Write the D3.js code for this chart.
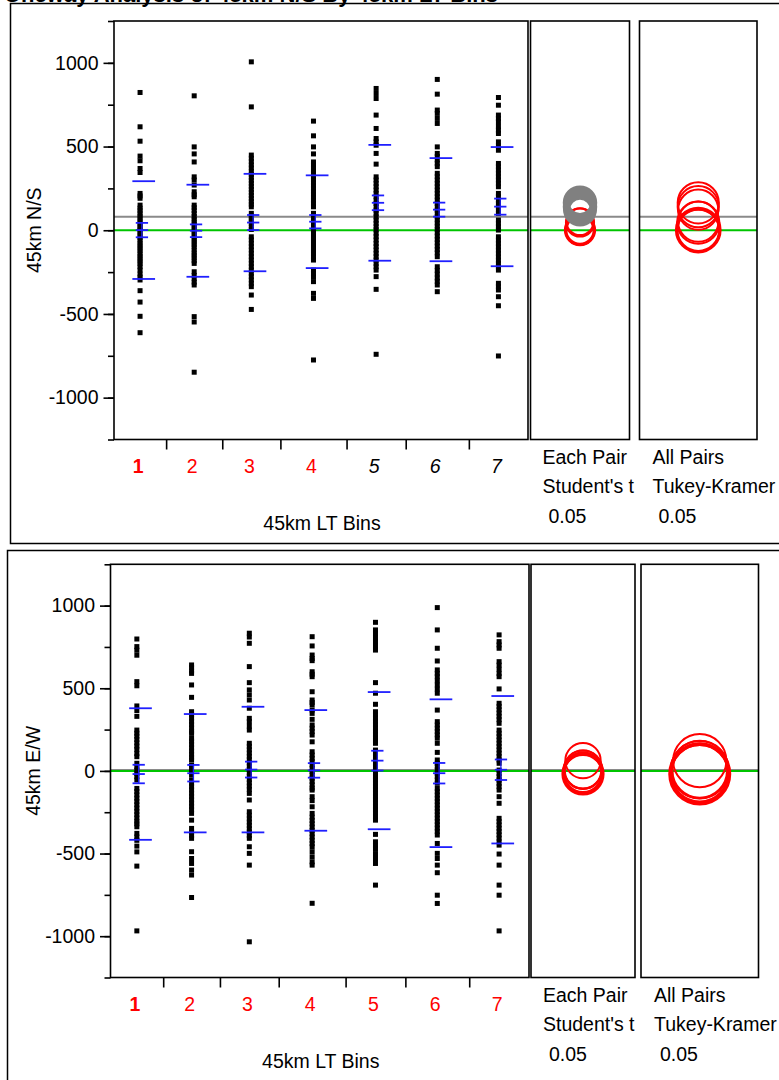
<!DOCTYPE html>
<html><head><meta charset="utf-8">
<script src="https://cdn.jsdelivr.net/npm/d3@7"></script>
<style>
html,body{margin:0;padding:0;background:#fff;overflow:hidden}
svg{display:block}
text{font-family:"Liberation Sans",Arial,Helvetica,sans-serif}
</style></head><body>
<svg id="chart" width="779" height="1080"></svg>
<script>
// ---------------- DATA ----------------
const categories = ["1","2","3","4","5","6","7"];
const binCounts = [52, 56, 58, 66, 59, 63, 59];
const yTickValues = [-1000, -500, 0, 500, 1000];
const yTickLabels = ["-1000", "-500", "0", "500", "1000"];
const xAxisTitle = "45km LT Bins";
const eachPairText = ["Each Pair", "Student's t", "0.05"];
const allPairsText = ["All Pairs", "Tukey-Kramer", "0.05"];
const titleText = "Oneway Analysis of 45km N/S By 45km LT Bins";

// 45km N/S
const nsPoints = [
 [823, 618, 532, 443, 415, 369, 345, 220, 205, 191, 150, 132, 118, 100, 85, 70, 55, 40, 25, 12, 0, -15, -30, -45, -60, -78, -92, -108, -122, -140, -155, -170, -185, -200, -218, -238, -262, -280, -297, -361, -429, -514, -612],
 [803, 498, 456, 408, 319, 300, 270, 230, 212, 200, 150, 135, 118, 100, 82, 66, 50, 35, 20, 5, -10, -25, -40, -55, -70, -85, -100, -118, -135, -150, -165, -182, -198, -248, -270, -290, -310, -327, -516, -548, -848],
 [1006, 737, 449, 430, 410, 390, 372, 352, 334, 316, 298, 280, 262, 244, 226, 208, 190, 172, 155, 140, 101, 85, 70, 55, 41, 20, 5, -39, -58, -78, -98, -118, -138, -158, -178, -198, -218, -238, -257, -277, -297, -317, -337, -387, -473],
 [652, 564, 498, 456, 408, 390, 372, 355, 338, 320, 302, 285, 268, 250, 232, 215, 198, 180, 160, 140, 101, 86, 70, 55, 40, 25, 10, -5, -20, -35, -50, -65, -80, -95, -110, -125, -140, -158, -178, -238, -258, -280, -307, -377, -407, -775],
 [847, 817, 787, 688, 608, 548, 528, 508, 459, 395, 319, 300, 280, 260, 240, 220, 200, 180, 160, 140, 120, 100, 80, 60, 41, 21, 3, -18, -38, -58, -79, -98, -118, -138, -158, -178, -198, -218, -238, -277, -353, -741],
 [901, 813, 718, 698, 668, 638, 498, 459, 440, 420, 400, 380, 340, 320, 300, 280, 260, 240, 220, 200, 180, 160, 140, 120, 101, 81, 62, 43, 24, 5, -15, -35, -55, -75, -95, -115, -135, -158, -218, -240, -262, -285, -305, -327, -367],
 [793, 747, 688, 668, 648, 620, 598, 578, 528, 503, 478, 399, 380, 360, 340, 320, 300, 280, 260, 220, 200, 180, 160, 140, 120, 101, 61, 41, 21, 1, -39, -59, -79, -99, -119, -139, -159, -179, -199, -219, -238, -317, -337, -357, -397, -451, -751]
];
const nsMeans = [1, -3, 46, 51, 164, 123, 141];
const nsSDs = [292, 275, 291, 277, 346, 308, 356];
const nsSEs = [43, 38, 45, 40, 44, 42, 48];
const nsGrandMean = 80;
const nsEachPairRadius = [86, 84, 84, 80, 82, 80, 82];
const nsTukeyRadius = [129, 126, 126, 120, 123, 120, 123];
const nsSignificant = [false, false, false, false, true, true, true];

// 45km E/W
const ewPoints = [
 [798, 752, 730, 700, 540, 515, 393, 365, 330, 247, 228, 210, 190, 170, 150, 130, 105, 86, 46, 25, 5, -15, -35, -55, -106, -125, -145, -165, -185, -205, -225, -245, -265, -285, -305, -320, -338, -378, -400, -420, -455, -490, -576, -968],
 [641, 625, 605, 590, 520, 445, 358, 340, 320, 300, 280, 260, 240, 227, 197, 180, 160, 140, 120, 100, 82, 66, 35, 15, -5, -25, -55, -75, -95, -115, -135, -155, -175, -195, -215, -235, -257, -298, -348, -370, -390, -408, -489, -530, -560, -600, -630, -766],
 [833, 810, 772, 631, 534, 490, 460, 429, 379, 318, 298, 270, 247, 167, 148, 128, 108, 88, 68, 48, 28, 8, -12, -32, -52, -72, -92, -112, -136, -176, -247, -268, -290, -310, -330, -350, -370, -390, -408, -459, -499, -570, -1034],
 [812, 756, 701, 680, 667, 600, 585, 570, 479, 429, 414, 399, 368, 348, 312, 278, 258, 238, 217, 176, 116, 96, 76, 56, 36, 16, -4, -24, -44, -64, -84, -104, -116, -156, -180, -217, -257, -280, -300, -320, -340, -360, -380, -400, -420, -440, -459, -489, -520, -550, -570, -801],
 [899, 853, 830, 805, 780, 755, 731, 534, 470, 403, 358, 340, 320, 300, 280, 260, 240, 220, 200, 185, 167, 126, 106, 86, 66, 46, 26, 6, -14, -34, -54, -74, -94, -114, -134, -154, -174, -194, -214, -234, -254, -276, -298, -384, -429, -450, -470, -500, -530, -560, -691],
 [988, 853, 742, 665, 611, 590, 570, 545, 520, 495, 470, 368, 298, 278, 258, 238, 218, 198, 167, 112, 66, 46, 26, 6, -14, -34, -55, -75, -106, -126, -146, -166, -186, -206, -226, -246, -266, -286, -306, -326, -346, -366, -388, -439, -499, -530, -570, -616, -752, -802],
 [823, 782, 762, 742, 661, 640, 615, 590, 570, 496, 409, 390, 370, 350, 330, 310, 288, 247, 227, 207, 187, 167, 147, 127, 107, 87, 66, 46, 5, -15, -35, -55, -75, -95, -116, -156, -196, -287, -307, -327, -347, -367, -387, -407, -429, -449, -503, -570, -691, -752, -968]
];
const ewMeans = [-19, -14, 8, 3, 62, -14, 7];
const ewSDs = [398, 358, 380, 365, 415, 447, 446];
const ewSEs = [56, 50, 48, 44, 60, 62, 62];
const ewGrandMean = 5;
const ewEachPairRadius = [120, 118, 116, 110, 107, 114, 116];
const ewTukeyRadius = [180, 177, 174, 165, 161, 171, 174];
const ewSignificant = [false, false, false, false, false, false, false];

const selectedGroup = 0;

// ---------------- DRAW ----------------
const svg = d3.select("#chart");
const FS = 19.5;
const RED = "#ff0000", BLUE = "#1f1fff", GREEN = "#00c400", GREY = "#8a8a8a";
const PT = 5;

// page title (cut off by the top edge, as in the reference)
svg.append("text").attr("x", 4).attr("y", 1.5)
  .attr("font-weight", "bold").attr("font-size", 22).attr("fill", "#000")
  .text(titleText);

const panels = [
  {frame: {x: 10.5, y: 3.5, w: 800, h: 540}, left: 114, right: 528, top: 21, bottom: 439.5,
   box2: [530.5, 629.5], box3: [639.5, 757], yTitle: "45km N/S", yTitleX: 34,
   points: nsPoints, means: nsMeans, sds: nsSDs, ses: nsSEs, grand: nsGrandMean,
   eachR: nsEachPairRadius, tukeyR: nsTukeyRadius, sig: nsSignificant},
  {frame: {x: 7.5, y: 550.5, w: 800, h: 600}, left: 110.5, right: 529, top: 564.3, bottom: 977.5,
   box2: [531, 635], box3: [641, 758.5], yTitle: "45km E/W", yTitleX: 32.5,
   points: ewPoints, means: ewMeans, sds: ewSDs, ses: ewSEs, grand: ewGrandMean,
   eachR: ewEachPairRadius, tukeyR: ewTukeyRadius, sig: ewSignificant}
];

panels.forEach(p => {
  const g = svg.append("g");
  g.append("rect").attr("x", p.frame.x).attr("y", p.frame.y)
    .attr("width", p.frame.w).attr("height", p.frame.h)
    .attr("fill", "none").attr("stroke", "#000").attr("stroke-width", 1.5);

  const y = d3.scaleLinear().domain([-1250, 1250]).range([p.bottom, p.top]);
  const cum = d3.cumsum(binCounts);
  const total = cum[cum.length - 1];
  const x = d3.scaleLinear().domain([0, total]).range([p.left, p.right]);
  const bounds = [0, ...cum];
  const centers = categories.map((c, i) => x((bounds[i] + bounds[i + 1]) / 2));

  const spans = [[p.left, p.right], p.box2, p.box3];
  spans.forEach(s => {
    g.append("line").attr("x1", s[0]).attr("x2", s[1])
      .attr("y1", y(p.grand)).attr("y2", y(p.grand))
      .attr("stroke", GREY).attr("stroke-width", 2);
    g.append("line").attr("x1", s[0]).attr("x2", s[1])
      .attr("y1", y(0)).attr("y2", y(0))
      .attr("stroke", GREEN).attr("stroke-width", 2);
  });

  categories.forEach((c, i) => {
    g.append("g").selectAll("rect").data(p.points[i]).join("rect")
      .attr("x", centers[i] - PT / 2).attr("y", d => y(d) - PT / 2)
      .attr("width", PT).attr("height", PT).attr("fill", "#000");
  });

  categories.forEach((c, i) => {
    const cx = centers[i];
    const m = p.means[i], sd = p.sds[i], se = p.ses[i];
    [m + sd, m - sd].forEach(v => {
      g.append("line").attr("x1", cx - 7.7).attr("x2", cx + 15)
        .attr("y1", y(v)).attr("y2", y(v))
        .attr("stroke", BLUE).attr("stroke-width", 1.8);
    });
    [m + se, m, m - se].forEach(v => {
      g.append("line").attr("x1", cx - 4.3).attr("x2", cx + 8)
        .attr("y1", y(v)).attr("y2", y(v))
        .attr("stroke", BLUE).attr("stroke-width", 1.8);
    });
    g.append("line").attr("x1", cx + 1.8).attr("x2", cx + 1.8)
      .attr("y1", y(m + se)).attr("y2", y(m - se))
      .attr("stroke", BLUE).attr("stroke-width", 1.2);
  });

  const yPx = v => Math.abs(y(v) - y(0));
  const c2 = (p.box2[0] + p.box2[1]) / 2;
  const c3 = (p.box3[0] + p.box3[1]) / 2;
  const order = d3.range(categories.length);
  order.filter(i => !p.sig[i]).forEach(i => {
    g.append("circle").attr("cx", c2).attr("cy", y(p.means[i])).attr("r", yPx(p.eachR[i]))
      .attr("fill", "none").attr("stroke", RED).attr("stroke-width", i === selectedGroup ? 3.5 : 2);
  });
  order.filter(i => p.sig[i]).forEach(i => {
    g.append("circle").attr("cx", c2).attr("cy", y(p.means[i])).attr("r", yPx(p.eachR[i]))
      .attr("fill", "none").attr("stroke", "#808080").attr("stroke-width", 7);
  });
  order.forEach(i => {
    g.append("circle").attr("cx", c3).attr("cy", y(p.means[i])).attr("r", yPx(p.tukeyR[i]))
      .attr("fill", "none").attr("stroke", RED).attr("stroke-width", i === selectedGroup ? 3.5 : 2);
  });

  g.append("rect").attr("x", p.left).attr("y", p.top)
    .attr("width", p.right - p.left).attr("height", p.bottom - p.top)
    .attr("fill", "none").attr("stroke", "#000").attr("stroke-width", 1.6);
  [p.box2, p.box3].forEach(b => {
    g.append("rect").attr("x", b[0]).attr("y", p.top)
      .attr("width", b[1] - b[0]).attr("height", p.bottom - p.top)
      .attr("fill", "none").attr("stroke", "#000").attr("stroke-width", 1.6);
  });

  const minor = g.append("g").attr("transform", `translate(${p.left},0)`)
    .call(d3.axisLeft(y).tickValues(d3.range(-1250, 1251, 250)).tickSize(6).tickSizeOuter(0).tickFormat(""));
  minor.select(".domain").remove();
  minor.selectAll("line").attr("stroke-width", 1.6);
  const major = g.append("g").attr("transform", `translate(${p.left},0)`)
    .call(d3.axisLeft(y).tickValues(yTickValues).tickSize(10.5).tickSizeOuter(0).tickPadding(5)
      .tickFormat((d, i) => yTickLabels[i]));
  major.select(".domain").remove();
  major.selectAll("line").attr("stroke-width", 1.6);
  major.selectAll("text").attr("font-size", FS).attr("fill", "#000")
    .attr("font-family", '"Liberation Sans",Arial,sans-serif');

  const xa = g.append("g").attr("transform", `translate(0,${p.bottom})`)
    .call(d3.axisBottom(x).tickValues(cum.slice(0, -1)).tickSize(10).tickSizeOuter(0).tickFormat(""));
  xa.select(".domain").remove();
  xa.selectAll("line").attr("stroke-width", 1.6);

  categories.forEach((c, i) => {
    const sig = p.sig[i];
    g.append("text").attr("x", centers[i] - 2).attr("y", p.bottom + 26 + 7)
      .attr("text-anchor", "middle").attr("font-size", FS)
      .attr("fill", sig ? "#000" : RED)
      .attr("font-style", sig ? "italic" : "normal")
      .attr("font-weight", i === selectedGroup ? "bold" : "normal")
      .text(c);
  });

  g.append("text").attr("x", (p.left + p.right) / 2 + 1).attr("y", p.bottom + 83 + 7)
    .attr("text-anchor", "middle").attr("font-size", FS).text(xAxisTitle);

  const yc = (p.top + p.bottom) / 2;
  g.append("text").attr("transform", `translate(${p.yTitleX + 7},${yc}) rotate(-90)`)
    .attr("text-anchor", "middle").attr("font-size", FS).text(p.yTitle);

  const capOffsets = [17, 46.5, 76];
  const capIndent = [0, 0, 6];
  eachPairText.forEach((t, k) => {
    g.append("text").attr("x", p.box2[0] + 12 + capIndent[k]).attr("y", p.bottom + capOffsets[k] + 7)
      .attr("font-size", FS).text(t);
  });
  allPairsText.forEach((t, k) => {
    g.append("text").attr("x", p.box3[0] + 13 + capIndent[k]).attr("y", p.bottom + capOffsets[k] + 7)
      .attr("font-size", FS).text(t);
  });
});
</script>
</body></html>
